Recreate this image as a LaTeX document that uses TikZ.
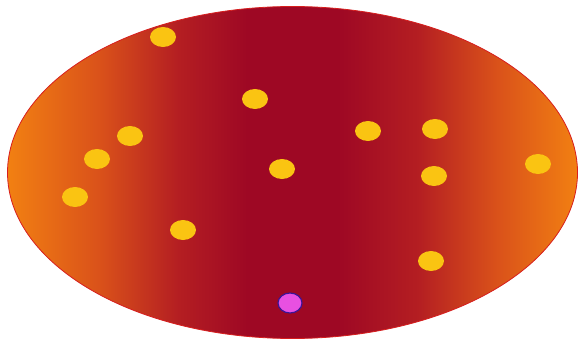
\documentclass[tikz,border=0pt]{standalone}
\usetikzlibrary{shapes.geometric}
\definecolor{edgeor}{RGB}{242,128,18}
\definecolor{midor}{RGB}{218,82,26}
\definecolor{darkr}{RGB}{180,30,34}
\definecolor{crim}{RGB}{158,8,36}
\definecolor{rim}{RGB}{215,30,30}
\definecolor{gold}{RGB}{250,196,18}
\definecolor{mag}{RGB}{232,80,225}
\definecolor{violetrim}{RGB}{60,20,150}
\pgfdeclarehorizontalshading{plate}{100bp}{color(0bp)=(edgeor); color(25bp)=(edgeor); color(33bp)=(midor); color(40bp)=(darkr); color(46bp)=(crim); color(54bp)=(crim); color(61bp)=(darkr); color(68bp)=(midor); color(75bp)=(edgeor); color(100bp)=(edgeor)}
\tikzset{
  dot/.style={ellipse, fill=gold, draw=none, minimum width=26pt, minimum height=20pt, inner sep=0pt},
  pinkdot/.style={ellipse, fill=mag, draw=violetrim, line width=1.2pt, minimum width=24pt, minimum height=20pt, inner sep=0pt}
}
\begin{document}
\begin{tikzpicture}[x=1pt,y=-1pt]
\useasboundingbox (0,0) rectangle (579,345);
\shade[shading=plate, draw=rim, line width=0.8pt] (292.5,172.5) ellipse [x radius=285, y radius=166];
\node[dot] (d1) at (163,37) {};
\node[dot] (d2) at (255,99) {};
\node[dot] (d3) at (130,136) {};
\node[dot] (d4) at (97,159) {};
\node[dot] (d5) at (75,197) {};
\node[dot] (d6) at (183,230) {};
\node[dot] (d7) at (282,169) {};
\node[dot] (d8) at (368,131) {};
\node[dot] (d9) at (435,129) {};
\node[dot] (d10) at (434,176) {};
\node[dot] (d11) at (538,164) {};
\node[dot] (d12) at (431,261) {};
\node[pinkdot] (p1) at (290,303) {};
\end{tikzpicture}
\end{document}
